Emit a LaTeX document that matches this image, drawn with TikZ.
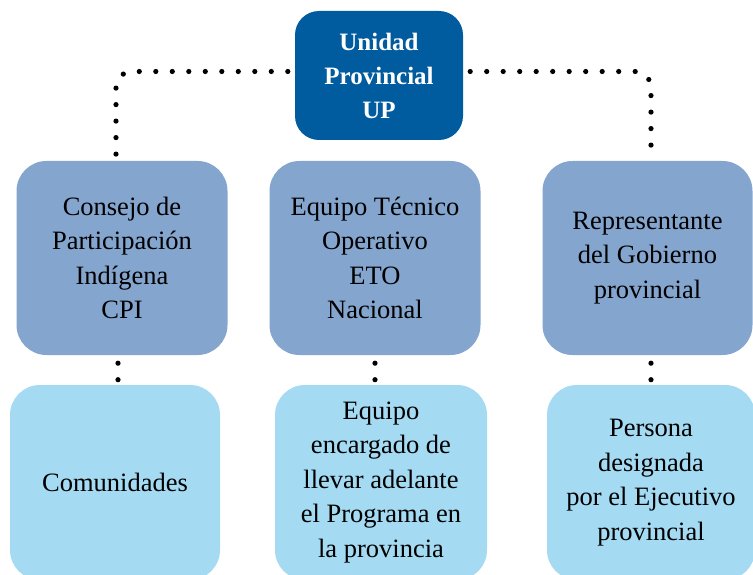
\documentclass[tikz,border=0pt]{standalone}
\usepackage{fontspec}
\setmainfont{Liberation Serif}
\usetikzlibrary{positioning,calc}
\definecolor{upblue}{RGB}{0,91,159}
\definecolor{midblue}{RGB}{132,165,206}
\definecolor{lowblue}{RGB}{164,218,242}

\begin{document}
\begin{tikzpicture}[
    x=1pt, y=-1pt,
    upnode/.style={
        rectangle, rounded corners=24pt, fill=upblue, text=white,
        font=\fontsize{25}{34}\selectfont\bfseries, align=center,
        minimum width=168pt, minimum height=129pt, inner sep=0pt
      },
    midnode/.style={
        rectangle, rounded corners=30pt, fill=midblue, text=black,
        font=\fontsize{26.5}{34.5}\selectfont, align=center,
        minimum width=211pt, minimum height=194pt, inner sep=0pt
      },
    lownode/.style={
        rectangle, rounded corners=30pt, fill=lowblue, text=black,
        font=\fontsize{26.5}{34.5}\selectfont, align=center,
        minimum width=210pt, minimum height=195pt, inner sep=0pt
      },
    dotline/.style={
        draw=black, line width=5.2pt, line cap=round,
        dash pattern=on 0pt off 16.5pt
      },
  ]
  \useasboundingbox (0,0) rectangle (753,575);

  % boxes
  \node[upnode](up) at (379,75.5) {Unidad\\Provincial\\UP};
  \node[midnode](cpi) at (122,258) {Consejo de\\Participación\\Indígena\\CPI};
  \node[midnode](eto) at (375,258) {Equipo Técnico\\Operativo\\ETO\\Nacional};
  \node[midnode, minimum width=210pt](rep) at (647.5,258) {Representante\\del Gobierno\\provincial};
  \node[lownode](com) at (115,482.5) {Comunidades};
  \node[lownode, minimum width=212pt](eq) at (381,482.5) {Equipo\\encargado de\\llevar adelante\\el Programa en\\la provincia};
  \node[lownode, minimum width=208pt](per) at (651,482.5) {Persona\\designada\\por el Ejecutivo\\provincial};

  % dotted connectors
  \draw[dotline, rounded corners=16pt, shorten <=7pt]
    ([yshift=4pt]up.west) -| ([xshift=-6pt]cpi.north);
  \draw[dotline, rounded corners=16pt, shorten <=7pt]
    ([yshift=4pt]up.east) -| ([xshift=3.5pt]rep.north);
  \draw[dotline, shorten <=8pt]
    ([xshift=-4pt]cpi.south) -- ([xshift=-4pt]cpi.south |- com.north);
  \draw[dotline, shorten <=8pt]
    (eto.south) -- (eto.south |- eq.north);
  \draw[dotline, shorten <=8pt]
    ([xshift=3.5pt]rep.south) -- ([xshift=3.5pt]rep.south |- per.north);
\end{tikzpicture}
\end{document}
